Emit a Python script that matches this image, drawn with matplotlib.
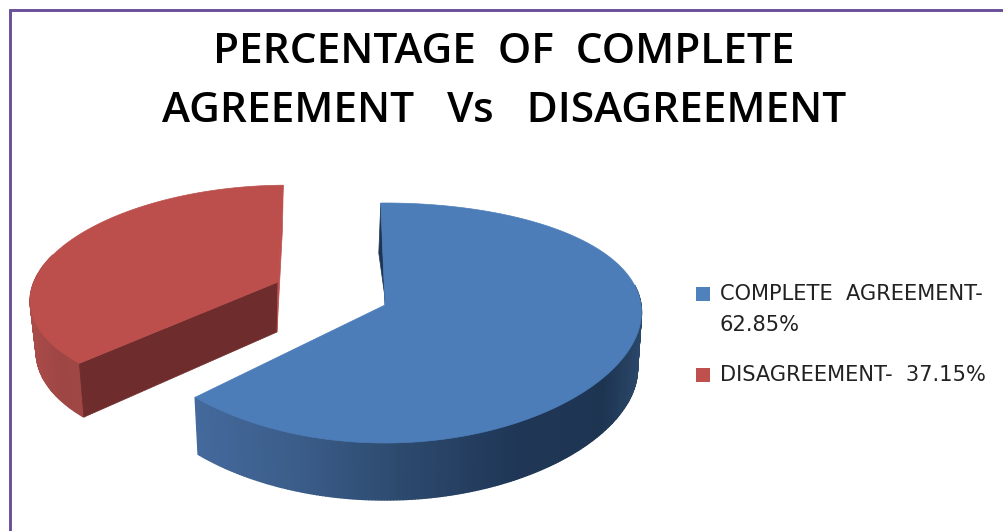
import numpy as np
import matplotlib.pyplot as plt
from matplotlib.patches import Rectangle
from matplotlib.colors import LinearSegmentedColormap

# Data
labels = ['COMPLETE  AGREEMENT-', 'DISAGREEMENT-']
values = [62.85, 37.15]
colors = ['#4F81BD', '#C0504D']
title_lines = ['PERCENTAGE  OF  COMPLETE', 'AGREEMENT   Vs   DISAGREEMENT']

start_angle = -1.0
fractions = np.array(values) / sum(values)
blue_end = start_angle + 360 * fractions[0]
red_end = blue_end + 360 * fractions[1]


def project(t, cx, cy, a, b, kx, ky, shear=0.0):
    # fake perspective of a flat disc, t in degrees clockwise from 12 o'clock
    s = np.sin(np.radians(t))
    c = np.cos(np.radians(t))
    x = cx + a * s / (1 + kx * c) + shear * c
    y = cy - b * c / (1 + ky * c)
    return x, y


# (cx, cy, a, b, kx, ky, shear) for the top and bottom faces
blue_top = (385, 305, 256, 117.3, 0.06, 0.15, 0)
blue_bot = (385, 362, 252, 117.3, 0.06, 0.15, 0)
red_top = (278, 282, 244, 107, 0.14, 0.105, 9)
red_bot = (277, 332, 237, 112, 0.14, 0.105, 9)

blue_side = LinearSegmentedColormap.from_list('blue_side', [
    (0.0, '#44699C'), (0.24, '#3A5C88'), (0.46, '#2D4A6E'),
    (0.73, '#1F3656'), (0.92, '#1E3552'), (1.0, '#2A4668')])
red_side = LinearSegmentedColormap.from_list('red_side', ['#A84B49', '#9E4644', '#A04846'])

fig = plt.figure(figsize=(10.04, 5.31), dpi=100)
ax = fig.add_axes([0, 0, 1, 1])
ax.set_xlim(0, 1004)
ax.set_ylim(531, 0)
ax.axis('off')

# frame, only left and top are in the crop
ax.plot([10, 10, 1004], [531, 10, 10], color='#6A4F9A', lw=2.1, solid_joinstyle='miter')


def draw_side(ts, top, bot, cmap, xmin, xmax):
    for t0, t1 in zip(ts[:-1], ts[1:]):
        x0, y0 = project(t0, *top)
        x1, y1 = project(t1, *top)
        x2, y2 = project(t1, *bot)
        x3, y3 = project(t0, *bot)
        col = cmap(np.clip(((x0 + x1) / 2 - xmin) / (xmax - xmin), 0, 1))
        ax.fill([x0, x1, x2, x3], [y0, y1, y2, y3], color=col, lw=1.0)


def draw_top(t0, t1, top, color):
    ts = np.linspace(t0, t1, 200)
    x, y = project(ts, *top)
    ax.fill(np.r_[top[0], x], np.r_[top[1], y], color=color, lw=0.5)


# red slice, the outer wall is only visible on the near side
draw_side(np.linspace(blue_end, 285, 80), red_top, red_bot, red_side, 30, 90)
xa, ya = project(blue_end, *red_top)
xb, yb = project(blue_end, *red_bot)
ax.fill([red_top[0], xa, xb, red_bot[0]], [red_top[1], ya, yb, red_bot[1]], color='#6F2C2C', lw=0.5)
xa, ya = project(red_end, *red_top)
xb, yb = project(red_end, *red_bot)
ax.fill([red_top[0], xa, xb, red_bot[0]], [red_top[1], ya, yb, red_bot[1]], color='#BC4F4C', lw=0.5)
draw_top(blue_end, red_end, red_top, '#BC4F4C')

# blue slice
xa, ya = project(start_angle, *blue_top)
ax.fill([blue_top[0], xa, xa - 2, blue_top[0] + 1], [blue_top[1], ya, ya + 50, blue_top[1]],
        color='#1E3552', lw=0.5)
draw_side(np.linspace(80, blue_end, 220), blue_top, blue_bot, blue_side, 195, 640)
draw_top(start_angle, blue_end, blue_top, '#4C7DB9')

# title
ax.text(504, 52, title_lines[0], ha='center', va='center', fontsize=30.5,
        family='Open Sans', weight='semibold', color='black')
ax.text(504, 111, title_lines[1], ha='center', va='center', fontsize=30.5,
        family='Open Sans', weight='semibold', color='black')

# legend drawn by hand, the wrap and the wide line gap don't come out of ax.legend
legend_text = [f'{labels[0]}\n{values[0]}%', f'{labels[1]}  {values[1]}%']
for txt, col, y in zip(legend_text, colors, [294, 375]):
    ax.add_patch(Rectangle((696, y - 7), 14, 14, color=col, lw=0))
    ax.text(720, y - 10, txt, ha='left', va='top', fontsize=15.1, family='DejaVu Sans',
            color='#222222', linespacing=1.68)

fig.savefig('out.png', dpi=100, facecolor='white')
plt.close()
